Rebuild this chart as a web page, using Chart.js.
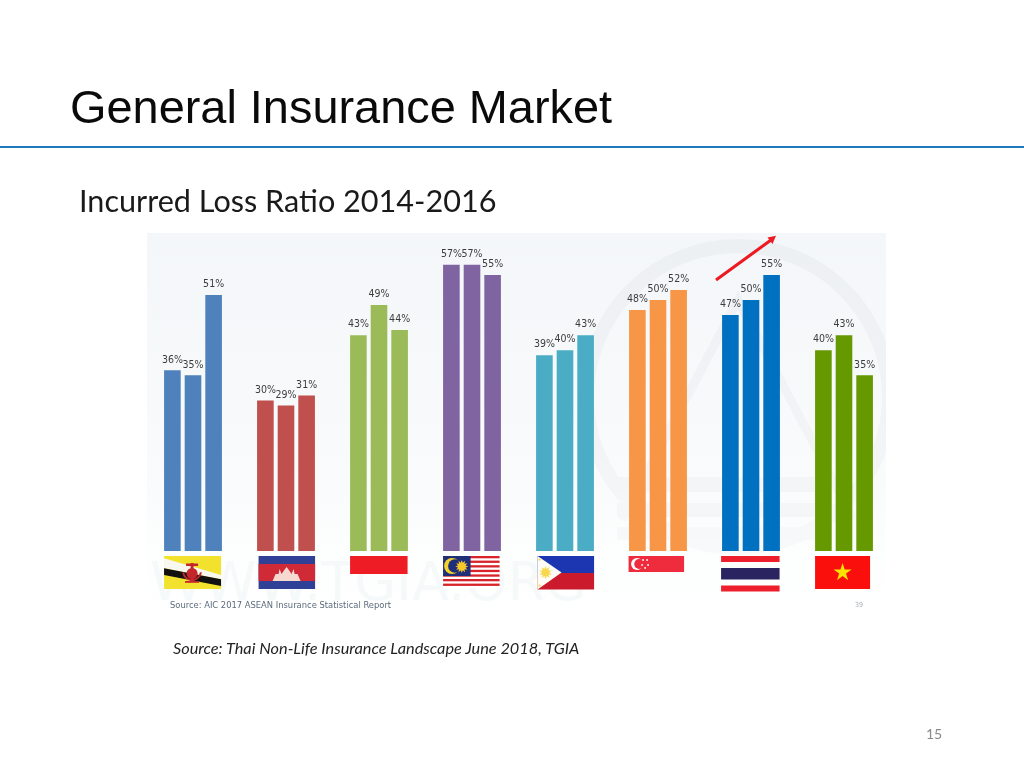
<!DOCTYPE html>
<html>
<head>
<meta charset="utf-8">
<title>General Insurance Market</title>
<script src="https://cdn.jsdelivr.net/npm/chart.js@4"></script>
<style>
    html, body { margin: 0; padding: 0; background: #fff; }
    #slide { position: relative; width: 1024px; height: 768px; overflow: hidden; }
    #slide canvas { position: absolute; left: 0; top: 0; }
    .txt { position: absolute; white-space: nowrap; line-height: 1; font-variant-ligatures: none; }
    #heading { left: 70px; top: 80px; font: 46.9px "Liberation Sans", Arial, sans-serif; color: #0a0a0a; }
    #rule { position: absolute; left: 0; top: 145.5px; width: 1024px; height: 2px; background: #1f78ba; }
    #subheading { left: 79px; top: 182px; font: 30.6px Lato, sans-serif; color: #1a1a1a; }
    #source { left: 173px; top: 638px; font: italic 16.3px Lato, sans-serif; color: #222; }
    #page { left: 926px; top: 725px; font: 14px Lato, sans-serif; color: #8a8a8a; }
</style>
</head>
<body>
<div id="slide">
    <canvas id="main-chart" width="1024" height="768"></canvas>
    <div class="txt" id="heading">General Insurance Market</div>
    <div id="rule"></div>
    <div class="txt" id="subheading">Incurred Loss Ratio 2014-2016</div>
    <div class="txt" id="source">Source: Thai Non-Life Insurance Landscape June 2018, TGIA</div>
    <div class="txt" id="page">15</div>
</div>
<script>
const countries = ['Brunei', 'Cambodia', 'Indonesia', 'Malaysia', 'Philippines', 'Singapore', 'Thailand', 'Vietnam'];
const years = ['2014', '2015', '2016'];
const ratio2014 = [36, 30, 43, 57, 39, 48, 47, 40];
const ratio2015 = [35, 29, 49, 57, 40, 50, 50, 43];
const ratio2016 = [51, 31, 44, 55, 43, 52, 55, 35];
const barColors = ['#4f81bd', '#c0504d', '#9bbb59', '#8064a2', '#4bacc6', '#f79646', '#0070c0', '#669900'];

function rect(ctx, color, x, y, w, h) {
    ctx.fillStyle = color;
    ctx.fillRect(x, y, w, h);
}

function poly(ctx, color, pts) {
    ctx.fillStyle = color;
    ctx.beginPath();
    pts.forEach((p, i) => i ? ctx.lineTo(p[0], p[1]) : ctx.moveTo(p[0], p[1]));
    ctx.closePath();
    ctx.fill();
}

function star(ctx, color, cx, cy, r, points = 5, inner = 0.38) {
    const pts = [];
    for (let i = 0; i < points * 2; i++) {
        const a = -Math.PI / 2 + i * Math.PI / points;
        const d = i % 2 ? r * inner : r;
        pts.push([cx + Math.cos(a) * d, cy + Math.sin(a) * d]);
    }
    poly(ctx, color, pts);
}

function crescent(ctx, color, cutColor, cx, cy, r, cut) {
    ctx.fillStyle = color;
    ctx.beginPath(); ctx.arc(cx, cy, r, 0, Math.PI * 2); ctx.fill();
    ctx.fillStyle = cutColor;
    ctx.beginPath(); ctx.arc(cx + cut, cy, r * 0.85, 0, Math.PI * 2); ctx.fill();
}

// one drawing per country, x is the left edge of the first bar of the group
const flags = [
    function brunei(ctx, x) {
        rect(ctx, '#f2e22e', x, 556, 57, 33);
        poly(ctx, '#f8f8ee', [[x, 558.3], [x + 57, 575], [x + 57, 579.3], [x, 568.3]]);
        poly(ctx, '#111', [[x, 568.3], [x + 57, 579.3], [x + 57, 586], [x, 575]]);
        const red = '#c4262c';
        ctx.fillStyle = red;
        ctx.beginPath(); ctx.arc(x + 28, 573.5, 5.5, 0, Math.PI * 2); ctx.fill();
        rect(ctx, red, x + 26.5, 563, 3, 19);
        rect(ctx, red, x + 22, 563.5, 12, 2.5);
        ctx.strokeStyle = red;
        ctx.lineWidth = 2;
        ctx.beginPath(); ctx.arc(x + 28, 571, 9, Math.PI * 0.05, Math.PI * 0.95); ctx.stroke();
        rect(ctx, red, x + 21, 581, 14, 1.8);
    },
    function cambodia(ctx, x) {
        const l = x + 1.5;
        rect(ctx, '#2f4096', l, 556, 56.5, 33);
        rect(ctx, '#d02a36', l, 564, 56.5, 17);
        const w = '#f6d9d0';
        poly(ctx, w, [[l + 14, 581], [l + 17, 574], [l + 20, 574], [l + 21, 569], [l + 23, 574], [l + 25, 571], [l + 28, 567], [l + 31, 571], [l + 33, 574], [l + 35, 569], [l + 36, 574], [l + 39, 574], [l + 42, 581]]);
    },
    function indonesia(ctx, x) {
        rect(ctx, '#ee1c25', x, 556, 57.5, 18);
    },
    function malaysia(ctx, x) {
        rect(ctx, '#fff', x, 556, 56.5, 32);
        for (let i = 0; i < 7; i++) rect(ctx, '#d8232a', x, 556 + i * 4.6, 56.5, 2.3);
        rect(ctx, '#1f2f78', x, 556, 27.5, 20);
        crescent(ctx, '#f6d32a', '#1f2f78', x + 9, 566, 8, 2.8);
        star(ctx, '#f6c82a', x + 18.7, 566.5, 6.5, 12, 0.6);
    },
    function philippines(ctx, x) {
        const l = x + 1.5;
        rect(ctx, '#1c35b0', l, 556, 56.5, 17);
        rect(ctx, '#cb1a2c', l, 573, 56.5, 16.5);
        poly(ctx, '#fdfdf5', [[l, 556], [l + 24, 572.5], [l, 589.5]]);
        star(ctx, '#f7d84a', l + 8, 572.5, 6.5, 10, 0.55);
        star(ctx, '#f7d84a', l + 2, 559.5, 1.8);
        star(ctx, '#f7d84a', l + 2, 585.5, 1.8);
    },
    function singapore(ctx, x) {
        rect(ctx, '#ef2b3e', x - 0.5, 556, 55.5, 16);
        crescent(ctx, '#fff', '#ef2b3e', x + 8, 564, 6, 2.2);
        [[14, 560], [18, 560], [13, 565], [19, 565], [16, 568]].forEach(s => {
            ctx.fillStyle = '#fff';
            ctx.beginPath(); ctx.arc(x + s[0], s[1], 0.9, 0, Math.PI * 2); ctx.fill();
        });
    },
    function thailand(ctx, x) {
        const l = x - 1;
        rect(ctx, '#ee1f2c', l, 556, 58.5, 6);
        rect(ctx, '#2a2560', l, 568, 58.5, 11.5);
        rect(ctx, '#ee1f2c', l, 585.5, 58.5, 6);
    },
    function vietnam(ctx, x) {
        rect(ctx, '#fa0f0c', x, 556, 55, 33);
        star(ctx, '#fbe200', x + 27.5, 572.5, 9.5);
    }
];

// faint scan of the source slide sitting behind the bars
const backdrop = {
    id: 'backdrop',
    beforeDraw(chart) {
        const ctx = chart.ctx;
        ctx.save();
        const grad = ctx.createLinearGradient(0, 233, 0, 620);
        grad.addColorStop(0, '#f4f7f9');
        grad.addColorStop(0.55, '#f8fafb');
        grad.addColorStop(0.85, '#fdfefe');
        grad.addColorStop(1, '#ffffff');
        rect(ctx, grad, 147, 233, 739, 385);

        ctx.beginPath();
        ctx.rect(147, 233, 739, 385);
        ctx.clip();

        // seal watermark: ring, inner triangle, steps
        const fade = ctx.createLinearGradient(0, 240, 0, 590);
        fade.addColorStop(0, '#edf0f3');
        fade.addColorStop(0.7, '#f3f5f7');
        fade.addColorStop(1, '#fbfcfc');
        ctx.strokeStyle = fade;
        ctx.lineWidth = 14;
        ctx.beginPath();
        ctx.arc(738, 397, 151, 0, Math.PI * 2);
        ctx.stroke();
        ctx.lineWidth = 9;
        ctx.beginPath();
        ctx.moveTo(622, 520);
        ctx.lineTo(738, 300);
        ctx.lineTo(854, 520);
        ctx.stroke();
        rect(ctx, '#f3f5f7', 617, 477, 200, 15);
        rect(ctx, '#f4f6f8', 617, 503, 200, 14);
        rect(ctx, '#f6f8f9', 617, 527, 200, 13);

        ctx.fillStyle = '#f6f9fa';
        ctx.font = '54px "DejaVu Sans", sans-serif';
        ctx.textBaseline = 'alphabetic';
        ctx.fillText('WWW.TGIA.ORG', 150, 600);
        ctx.restore();
    },
    afterDatasetsDraw(chart) {
        const ctx = chart.ctx;
        const first = chart.getDatasetMeta(0).data;
        ctx.save();
        flags.forEach((draw, i) => draw(ctx, first[i].x - first[i].width / 2));

        // arrow over the Thailand bars
        ctx.strokeStyle = '#ec1b23';
        ctx.lineWidth = 3;
        ctx.beginPath();
        ctx.moveTo(716, 280);
        ctx.lineTo(771, 240);
        ctx.stroke();
        poly(ctx, '#ec1b23', [[776, 235.7], [767.5, 237.5], [772.5, 244]]);

        ctx.fillStyle = '#5b6b7c';
        ctx.font = '9.3px "DejaVu Sans Condensed", "DejaVu Sans", sans-serif';
        ctx.textBaseline = 'alphabetic';
        ctx.fillText('Source: AIC 2017 ASEAN Insurance Statistical Report', 170, 608);
        ctx.fillStyle = '#aab0b5';
        ctx.font = '7px "DejaVu Sans Condensed", "DejaVu Sans", sans-serif';
        ctx.fillText('39', 855, 607);
        ctx.restore();
    }
};

// the percent above every bar
const valueLabels = {
    id: 'valueLabels',
    afterDatasetsDraw(chart) {
        const ctx = chart.ctx;
        ctx.save();
        ctx.fillStyle = '#3c3c3c';
        ctx.font = '10.5px "DejaVu Sans Condensed", "DejaVu Sans", sans-serif';
        ctx.textAlign = 'center';
        ctx.textBaseline = 'middle';
        chart.data.datasets.forEach((ds, d) => {
            chart.getDatasetMeta(d).data.forEach((bar, i) => {
                ctx.fillText(ds.data[i] + '%', bar.x, bar.y - 10.5);
            });
        });
        ctx.restore();
    }
};

const seriesData = [ratio2014, ratio2015, ratio2016];

new Chart(document.getElementById('main-chart').getContext('2d'), {
    type: 'bar',
    data: {
        labels: countries,
        datasets: years.map((year, i) => ({
            label: year,
            data: seriesData[i],
            backgroundColor: barColors,
            categoryPercentage: 0.665,
            barPercentage: 0.806
        }))
    },
    options: {
        responsive: false,
        animation: false,
        layout: { padding: { left: 146.5, right: 133.5, top: 224.7, bottom: 217 } },
        plugins: { legend: { display: false }, tooltip: { enabled: false } },
        scales: {
            x: { display: false },
            y: { display: false, min: 0, max: 65 }
        }
    },
    plugins: [backdrop, valueLabels]
});
</script>
</body>
</html>
